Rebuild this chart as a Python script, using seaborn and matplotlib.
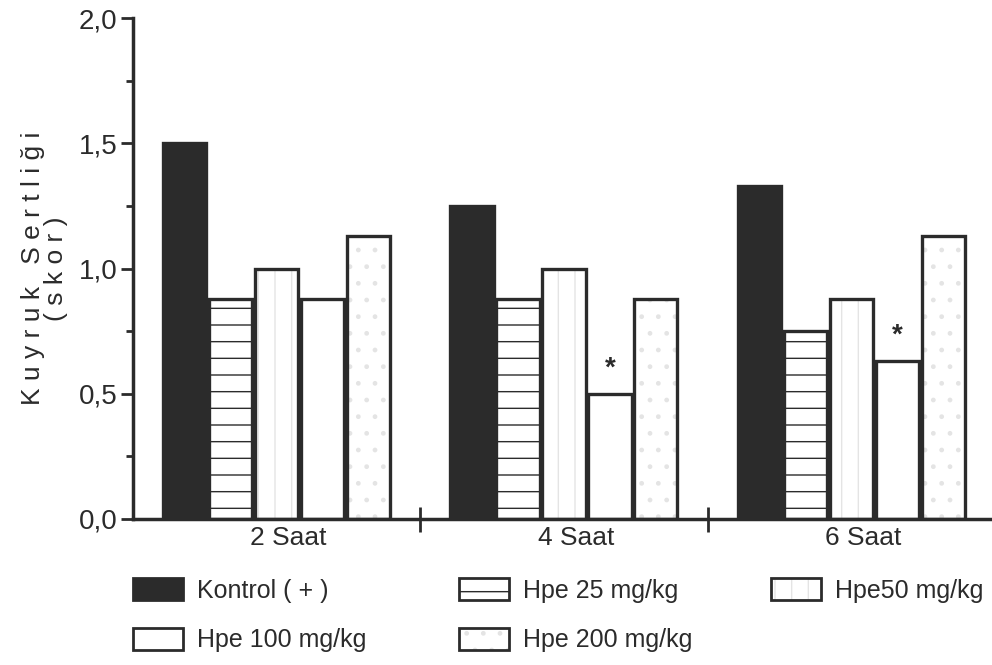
import matplotlib
matplotlib.use("Agg")
import matplotlib.pyplot as plt
import matplotlib.colors as mcolors
from matplotlib.patches import Rectangle
from matplotlib.ticker import FixedLocator
import seaborn as sns
import pandas as pd

# ---- data ----
times = ["2 Saat", "4 Saat", "6 Saat"]
groups = ["Kontrol ( + )", "Hpe 25 mg/kg", "Hpe50 mg/kg", "Hpe 100 mg/kg", "Hpe 200 mg/kg"]
kontrol = [1.50, 1.25, 1.33]
hpe25 = [0.88, 0.88, 0.75]
hpe50 = [1.00, 1.00, 0.88]
hpe100 = [0.88, 0.50, 0.63]
hpe200 = [1.13, 0.88, 1.13]
star_marks = [(1, 0.50), (2, 0.63)]  # (time index, value) of significant bars
y_ticks = [0.0, 0.5, 1.0, 1.5, 2.0]
y_tick_labels = ["0,0", "0,5", "1,0", "1,5", "2,0"]

series = [kontrol, hpe25, hpe50, hpe100, hpe200]
rows = []
for g, vals in zip(groups, series):
    for t, v in zip(times, vals):
        rows.append({"time": t, "group": g, "score": v})
df = pd.DataFrame(rows)

sns.set_theme(style="white")
plt.rcParams["font.family"] = ["Liberation Sans", "DejaVu Sans"]

leg_size = 18
dark = "#2b2b2b"
faces = [dark, "white", "white", "white", "white"]
hatches = [None, "-", "|", None, "."]
hatch_cols = [dark, dark, "#e4e4e4", dark, "#e4e4e4"]

fig = plt.figure(figsize=(9.92, 6.65), dpi=100)
ax = fig.add_axes([133 / 992, 146 / 665, (992 - 133) / 992, (519 - 18) / 665])

sns.barplot(data=df, x="time", y="score", hue="group", order=times, hue_order=groups,
            palette=faces, width=0.8, edgecolor=dark, linewidth=2.4, saturation=1,
            legend=False, ax=ax, errorbar=None)

plt.rcParams["hatch.linewidth"] = 1.0
for ci, cont in enumerate(ax.containers):
    for p in cont:
        w = p.get_width()
        p.set_x(p.get_x() + w * 0.03)
        p.set_width(w * 0.94)
        p.set_facecolor(faces[ci])
        p.set_edgecolor(dark)
        if hatches[ci]:
            p.set_hatch(hatches[ci])
            p._hatch_color = mcolors.to_rgba(hatch_cols[ci])

for ti, v in star_marks:
    bar = ax.containers[3][ti]
    ax.text(bar.get_x() + bar.get_width() / 2, v + 0.05, "*", ha="center", va="bottom",
            fontsize=20, fontweight="bold", color=dark)

ax.set_xlim(-0.5, 2.49)
ax.set_ylim(0, 2.0)
ax.set_yticks(y_ticks)
ax.set_yticklabels(y_tick_labels, fontsize=20)
ax.yaxis.set_minor_locator(FixedLocator([0.25, 0.75, 1.25, 1.75]))
ax.tick_params(axis="y", which="major", direction="out", length=9, width=2, color=dark,
               left=True, labelcolor=dark, pad=2)
ax.tick_params(axis="y", which="minor", direction="out", length=5, width=2, color=dark, left=True)
# category labels sit slightly right of the group centres in the original
ax.set_xticks([i + 0.042 for i in range(len(times))])
ax.set_xticklabels(times, fontsize=19)
ax.xaxis.set_minor_locator(FixedLocator([0.5, 1.5]))
ax.tick_params(axis="x", which="major", length=0, pad=5, labelcolor=dark)
ax.tick_params(axis="x", which="minor", direction="inout", length=18, width=2, color=dark, bottom=True)

for s in ["top", "right"]:
    ax.spines[s].set_visible(False)
for s in ["left", "bottom"]:
    ax.spines[s].set_color(dark)
    ax.spines[s].set_linewidth(2.5)

ax.set_xlabel("")
ax.set_ylabel("K u y r u k   S e r t l i ğ i\n( s k o r )", fontsize=19, color=dark,
              linespacing=0.95, labelpad=8)

# legend: three columns placed at fixed positions
handles = []
for ci, g in enumerate(groups):
    r = Rectangle((0, 0), 1, 1, facecolor=faces[ci], edgecolor=dark, linewidth=2)
    if hatches[ci]:
        r.set_hatch(hatches[ci])
        r._hatch_color = mcolors.to_rgba(hatch_cols[ci])
    handles.append(r)
fs_px = leg_size * 100 / 72
columns = [([0, 3], 133), ([1, 4], 459), ([2], 771)]
for idx, xpx in columns:
    leg = fig.legend([handles[i] for i in idx], [groups[i] for i in idx],
                     loc="upper left", bbox_to_anchor=(xpx / 992, 1 - 578 / 665), ncol=1,
                     frameon=False, prop={"size": leg_size},
                     handlelength=50 / fs_px, handleheight=25 / fs_px,
                     handletextpad=0.55, labelspacing=1.0,
                     borderaxespad=0, borderpad=0)
    for t in leg.get_texts():
        t.set_color(dark)

fig.savefig("out.png", dpi=100)
